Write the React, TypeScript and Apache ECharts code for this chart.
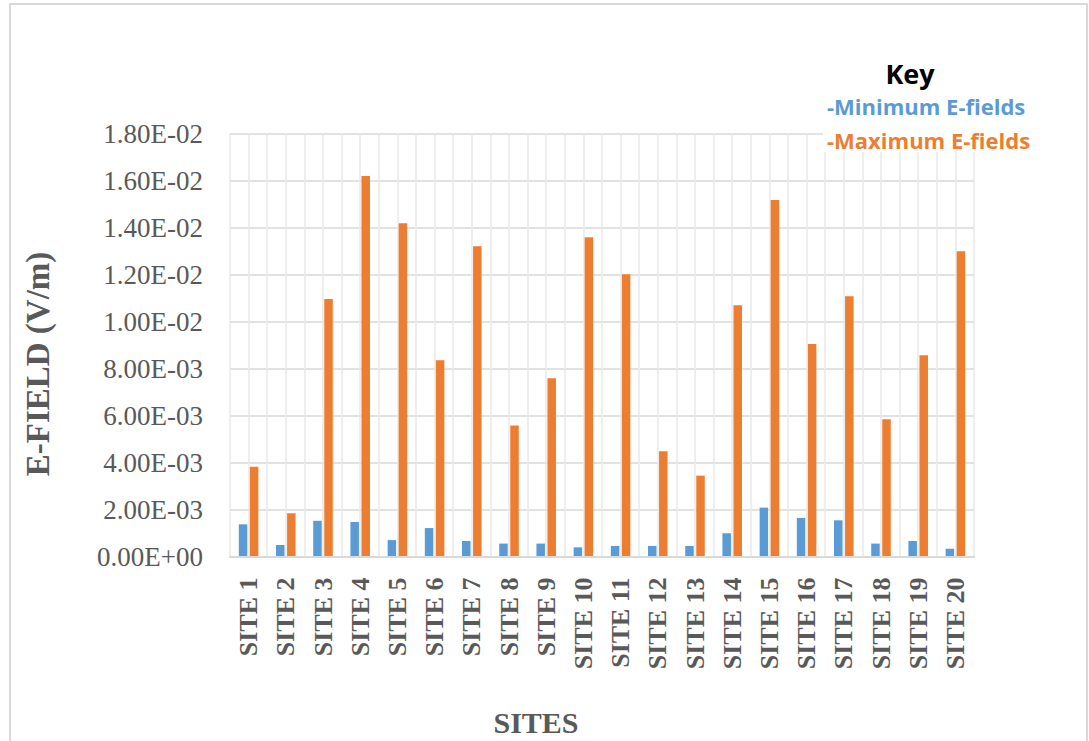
import React, { useEffect, useRef } from "react";
import * as echarts from "echarts";

const sites = [
  "SITE 1", "SITE 2", "SITE 3", "SITE 4", "SITE 5", "SITE 6", "SITE 7", "SITE 8", "SITE 9", "SITE 10",
  "SITE 11", "SITE 12", "SITE 13", "SITE 14", "SITE 15", "SITE 16", "SITE 17", "SITE 18", "SITE 19", "SITE 20",
];
const minFields = [
  1.37e-3, 0.49e-3, 1.52e-3, 1.47e-3, 0.7e-3, 1.21e-3, 0.66e-3, 0.55e-3, 0.55e-3, 0.39e-3,
  0.45e-3, 0.45e-3, 0.45e-3, 0.99e-3, 2.08e-3, 1.64e-3, 1.54e-3, 0.55e-3, 0.66e-3, 0.33e-3,
];
const maxFields = [
  3.82e-3, 1.84e-3, 10.96e-3, 16.19e-3, 14.18e-3, 8.35e-3, 13.2e-3, 5.57e-3, 7.58e-3, 13.58e-3,
  12.01e-3, 4.48e-3, 3.44e-3, 10.69e-3, 15.17e-3, 9.04e-3, 11.07e-3, 5.84e-3, 8.56e-3, 12.99e-3,
];
const yMin = 0;
const yMax = 0.018;
const yStep = 0.002;

const keyTitle = "Key";
const minLabel = "-Minimum E-fields";
const maxLabel = "-Maximum E-fields";
const yTitle = "E-FIELD (V/m)";
const xTitle = "SITES";

const BLUE = "#5b9bd5";
const ORANGE = "#ed7d31";
const GREY_TEXT = "#595959";
const SERIF = "'Liberation Serif', 'Times New Roman', serif";
const SANS = "'Open Sans', 'Liberation Sans', sans-serif";

function fmtSci(v: number): string {
  const [m, e] = v.toExponential(2).split("e");
  const sign = e[0];
  const digits = e.slice(1).padStart(2, "0");
  return `${m}E${sign}${digits}`;
}

export default function App() {
  const ref = useRef<HTMLDivElement>(null);
  useEffect(() => {
    if (!ref.current) return;
    const chart = echarts.init(ref.current, null, { renderer: "svg" });
    const gridLeft = 230;
    const gridTop = 133.5;
    const gridRight = 1089 - 974;
    const gridBottom = 741 - 556.5;
    chart.setOption({
      animation: false,
      backgroundColor: "#ffffff",
      grid: { left: gridLeft, top: gridTop, right: gridRight, bottom: gridBottom, containLabel: false },
      xAxis: [
        {
          type: "category",
          data: sites,
          boundaryGap: true,
          axisLine: { show: true, lineStyle: { color: "#d9d9d9", width: 2 } },
          axisTick: { show: false },
          splitLine: { show: false },
          axisLabel: {
            rotate: 90,
            margin: 21,
            interval: 0,
            color: GREY_TEXT,
            fontFamily: SERIF,
            fontSize: 26,
            fontWeight: "bold",
          },
          z: 3,
        },
        {
          type: "value",
          min: 0,
          max: sites.length * 2,
          interval: 1,
          position: "bottom",
          axisLine: { show: false },
          axisTick: { show: false },
          axisLabel: { show: false },
          splitLine: { show: true, lineStyle: { color: "#e8e8e8", width: 1.5 } },
        },
      ],
      yAxis: {
        type: "value",
        min: yMin,
        max: yMax,
        interval: yStep,
        axisLine: { show: false },
        axisTick: { show: false },
        splitLine: { show: true, lineStyle: { color: "#d9d9d9", width: 1.5 } },
        axisLabel: {
          margin: 27,
          color: GREY_TEXT,
          fontFamily: SERIF,
          fontSize: 27,
          formatter: (v: number) => fmtSci(v),
        },
      },
      series: [
        {
          name: "Minimum E-fields",
          type: "bar",
          xAxisIndex: 0,
          data: minFields,
          barWidth: 8.5,
          barGap: "30%",
          itemStyle: { color: BLUE },
        },
        {
          name: "Maximum E-fields",
          type: "bar",
          xAxisIndex: 0,
          data: maxFields,
          barWidth: 8.5,
          barGap: "30%",
          itemStyle: { color: ORANGE },
        },
      ],
      graphic: [
        {
          type: "rect",
          shape: { x: 10, y: 4, width: 1077, height: 760 },
          style: { fill: "none", stroke: "#d9d9d9", lineWidth: 2 },
          silent: true,
        },
        {
          type: "rect",
          shape: { x: 823, y: 55, width: 220, height: 97 },
          style: { fill: "#ffffff" },
          silent: true,
          z: 50,
        },
        {
          type: "text",
          x: 38,
          y: 364,
          rotation: Math.PI / 2,
          style: {
            text: yTitle,
            fill: GREY_TEXT,
            font: `bold 33px ${SERIF}`,
            align: "center",
            verticalAlign: "middle",
          },
        },
        {
          type: "text",
          x: 536,
          y: 722,
          style: {
            text: xTitle,
            fill: GREY_TEXT,
            font: `bold 30px ${SERIF}`,
            align: "center",
            verticalAlign: "middle",
          },
        },
        {
          type: "text",
          x: 910,
          y: 73,
          z: 60,
          style: {
            text: keyTitle,
            fill: "#000000",
            font: `bold 27px ${SANS}`,
            align: "center",
            verticalAlign: "middle",
          },
        },
        {
          type: "text",
          x: 827,
          y: 106,
          z: 60,
          style: {
            text: minLabel,
            fill: BLUE,
            font: `bold 22px ${SANS}`,
            align: "left",
            verticalAlign: "middle",
          },
        },
        {
          type: "text",
          x: 827,
          y: 140,
          z: 60,
          style: {
            text: maxLabel,
            fill: ORANGE,
            font: `bold 22px ${SANS}`,
            align: "left",
            verticalAlign: "middle",
          },
        },
      ],
    });
    return () => chart.dispose();
  }, []);
  return (
    <div
      ref={ref}
      style={{ position: "absolute", left: 0, top: 0, width: 1089, height: 741, background: "#ffffff" }}
    />
  );
}
